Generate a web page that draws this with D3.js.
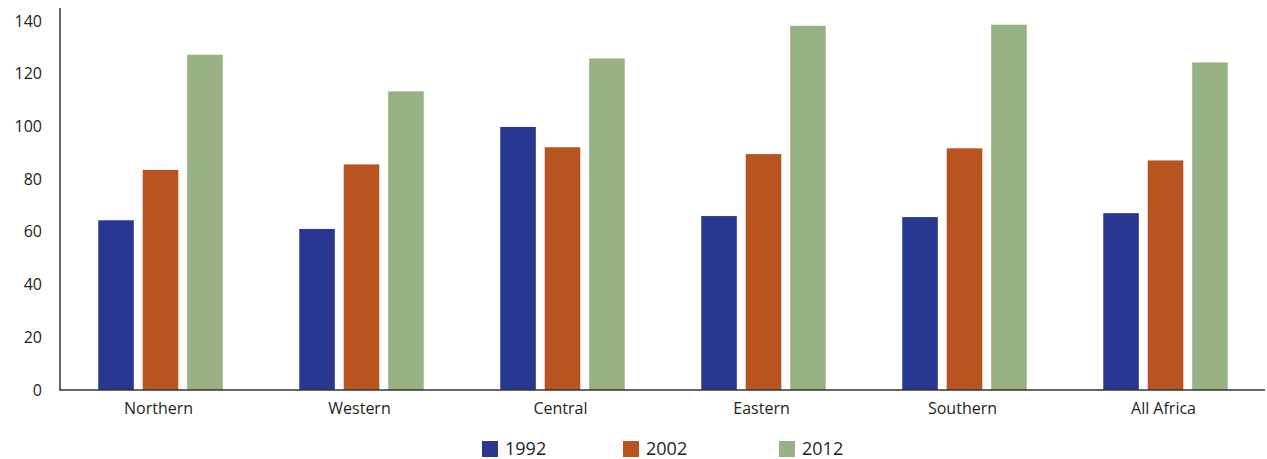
<!DOCTYPE html>
<html>
<head>
<meta charset="utf-8">
<script src="https://cdn.jsdelivr.net/npm/d3@7"></script>
<style>
  html, body { margin: 0; padding: 0; background: #fff; }
  svg { display: block; }
  text { font-family: "Open Sans", "Noto Sans", sans-serif; fill: #231f20; }
</style>
</head>
<body>
<svg id="chart" width="1267" height="459"></svg>
<script>
// Regions and survey years
const regions = ["Northern", "Western", "Central", "Eastern", "Southern", "All Africa"];
const years = ["1992", "2002", "2012"];

// Values per year, one entry per region
const values1992 = [64.4, 61.1, 99.8, 66.0, 65.6, 67.1];
const values2002 = [83.5, 85.6, 92.1, 89.5, 91.7, 87.1];
const values2012 = [127.2, 113.3, 125.8, 138.2, 138.6, 124.3];

const yTicks = [0, 20, 40, 60, 80, 100, 120, 140];
const colors = ["#283891", "#b85420", "#99b283"];

(function drawChart() {
  const seriesValues = [values1992, values2002, values2012];
  const rows = regions.map((r, i) => ({
    region: r,
    vals: years.map((yr, j) => ({ year: yr, value: seriesValues[j][i], color: colors[j] }))
  }));

  const svg = d3.select("#chart");
  const plotLeft = 60, plotRight = 1266, plotTop = 21, plotBottom = 390;

  const x = d3.scaleBand().domain(regions).range([plotLeft, plotRight]).padding(0);
  const groupSpan = 124.5;
  const xInner = d3.scaleBand().domain(years).range([0, groupSpan]).paddingInner(0.2).paddingOuter(0);
  const y = d3.scaleLinear().domain([0, 140]).range([plotBottom, plotTop]);

  // Bars
  const groups = svg.append("g").selectAll("g")
    .data(rows).join("g")
    .attr("transform", d => `translate(${x(d.region) + x.bandwidth() / 2 - groupSpan / 2},0)`);

  groups.selectAll("rect")
    .data(d => d.vals).join("rect")
    .attr("x", d => xInner(d.year))
    .attr("width", xInner.bandwidth())
    .attr("y", d => y(d.value))
    .attr("height", d => y(0) - y(d.value))
    .attr("fill", d => d.color);

  // Y axis: labels only, plus the vertical rule
  const yAxis = d3.axisLeft(y).tickValues(yTicks).tickSize(0).tickPadding(18);
  const gy = svg.append("g").attr("transform", `translate(${plotLeft},0)`).call(yAxis);
  gy.select(".domain").remove();
  gy.selectAll("text").style("font-size", "16px").style("font-family", "'Open Sans', sans-serif").attr("fill", "#231f20");

  svg.append("line")
    .attr("x1", plotLeft).attr("x2", plotLeft)
    .attr("y1", 8).attr("y2", plotBottom)
    .attr("stroke", "#333").attr("stroke-width", 1.5);

  // X axis
  const xAxis = d3.axisBottom(x).tickSize(0).tickPadding(13);
  const gx = svg.append("g").attr("transform", `translate(-2,${plotBottom})`).call(xAxis);
  gx.select(".domain").remove();
  gx.selectAll("text").style("font-size", "16px").style("font-family", "'Open Sans', sans-serif").attr("fill", "#231f20");

  svg.append("line")
    .attr("x1", plotLeft - 0.75).attr("x2", 1265)
    .attr("y1", plotBottom).attr("y2", plotBottom)
    .attr("stroke", "#333").attr("stroke-width", 1.5);

  // Legend
  const legendX = [482, 623, 779];
  const legend = svg.append("g").selectAll("g")
    .data(years).join("g")
    .attr("transform", (d, i) => `translate(${legendX[i]},441)`);
  legend.append("rect")
    .attr("width", 16).attr("height", 16)
    .attr("fill", (d, i) => colors[i]);
  legend.append("text")
    .attr("x", 23).attr("y", 8).attr("dy", "0.35em")
    .style("font-size", "18px")
    .text(d => d);
})();
</script>
</body>
</html>
